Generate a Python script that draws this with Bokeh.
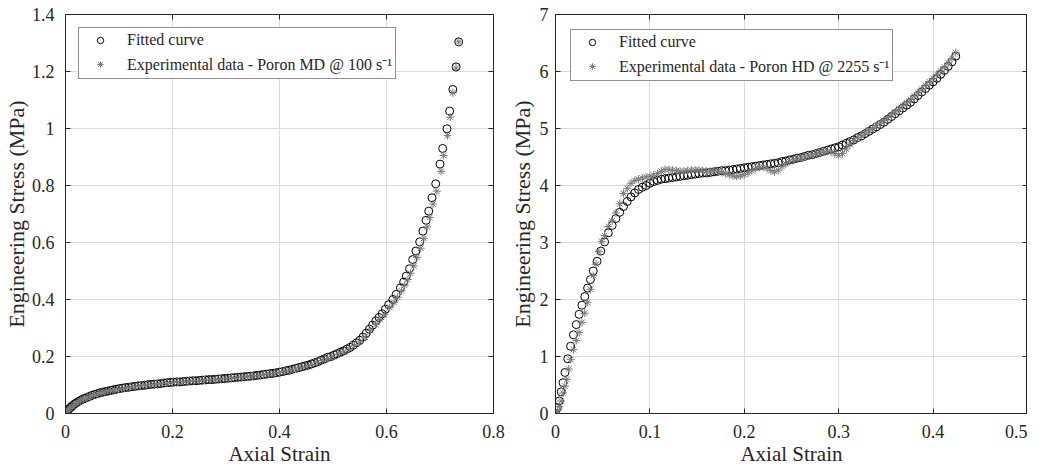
from bokeh.plotting import figure
from bokeh.models import (Range1d, FixedTicker, NumeralTickFormatter, LinearAxis, Legend, LegendItem,
                          CustomJSTickFormatter)
from bokeh.layouts import row
from bokeh.embed import file_html
from bokeh.resources import INLINE

# ---------------- data: left panel (Poron MD @ 100 1/s) ----------------
md_fit_strain = [0.000, 0.002, 0.004, 0.007, 0.010, 0.013, 0.016, 0.020, 0.024, 0.028, 0.032, 0.036, 0.040,
                 0.045, 0.050, 0.055, 0.060, 0.065, 0.070, 0.075, 0.080, 0.085, 0.090, 0.095, 0.100, 0.106,
                 0.112, 0.118, 0.124, 0.130, 0.136, 0.142, 0.148, 0.154, 0.160, 0.166, 0.172, 0.178, 0.184,
                 0.190, 0.196, 0.202, 0.208, 0.214, 0.220, 0.226, 0.232, 0.238, 0.244, 0.250, 0.256, 0.262,
                 0.268, 0.274, 0.280, 0.286, 0.292, 0.298, 0.304, 0.310, 0.316, 0.322, 0.328, 0.334, 0.340,
                 0.346, 0.352, 0.358, 0.364, 0.370, 0.376, 0.382, 0.388, 0.394, 0.400, 0.406, 0.412, 0.418,
                 0.424, 0.430, 0.436, 0.442, 0.448, 0.454, 0.460, 0.466, 0.472, 0.478, 0.484, 0.490, 0.496,
                 0.502, 0.508, 0.514, 0.520, 0.526, 0.532, 0.538, 0.544, 0.550, 0.556, 0.562, 0.568, 0.574,
                 0.580, 0.586, 0.592, 0.598, 0.604, 0.612, 0.618, 0.626, 0.632, 0.637, 0.643, 0.649, 0.655,
                 0.662, 0.668, 0.674, 0.679, 0.685, 0.692, 0.700, 0.705, 0.713, 0.718, 0.724, 0.730, 0.735]
md_fit_stress = [0.000, 0.006, 0.011, 0.017, 0.022, 0.027, 0.032, 0.037, 0.042, 0.046, 0.050, 0.053, 0.056,
                 0.060, 0.064, 0.067, 0.070, 0.073, 0.075, 0.077, 0.079, 0.081, 0.083, 0.085, 0.087, 0.089,
                 0.091, 0.092, 0.094, 0.095, 0.097, 0.098, 0.099, 0.101, 0.102, 0.103, 0.104, 0.105, 0.107,
                 0.108, 0.109, 0.110, 0.111, 0.111, 0.112, 0.113, 0.114, 0.115, 0.115, 0.116, 0.117, 0.118,
                 0.119, 0.119, 0.120, 0.121, 0.122, 0.123, 0.124, 0.125, 0.126, 0.127, 0.128, 0.129, 0.130,
                 0.131, 0.132, 0.134, 0.135, 0.137, 0.138, 0.140, 0.141, 0.143, 0.145, 0.147, 0.150, 0.152,
                 0.155, 0.158, 0.161, 0.164, 0.167, 0.170, 0.174, 0.178, 0.182, 0.187, 0.192, 0.197, 0.200,
                 0.205, 0.210, 0.215, 0.220, 0.226, 0.232, 0.240, 0.248, 0.257, 0.268, 0.282, 0.296, 0.310,
                 0.325, 0.337, 0.350, 0.366, 0.382, 0.400, 0.418, 0.441, 0.461, 0.482, 0.508, 0.540, 0.570,
                 0.602, 0.640, 0.678, 0.710, 0.757, 0.806, 0.875, 0.930, 0.999, 1.061, 1.137, 1.216, 1.304]

md_exp_strain = [0.001, 0.004, 0.008, 0.012, 0.017, 0.022, 0.028, 0.034, 0.040, 0.047, 0.054, 0.061, 0.068,
                 0.076, 0.084, 0.092, 0.100, 0.110, 0.120, 0.130, 0.140, 0.150, 0.160, 0.170, 0.180, 0.190,
                 0.200, 0.210, 0.220, 0.230, 0.240, 0.250, 0.260, 0.270, 0.280, 0.290, 0.300, 0.310, 0.320,
                 0.330, 0.340, 0.350, 0.360, 0.370, 0.380, 0.390, 0.400, 0.410, 0.420, 0.430, 0.440, 0.450,
                 0.460, 0.470, 0.480, 0.490, 0.500, 0.510, 0.520, 0.530, 0.540, 0.550, 0.560, 0.570, 0.580,
                 0.588, 0.596, 0.606, 0.614, 0.621, 0.628, 0.634, 0.640, 0.645, 0.651, 0.657, 0.664, 0.670,
                 0.676, 0.681, 0.687, 0.694, 0.702, 0.707, 0.714, 0.719, 0.724, 0.730, 0.735]
md_exp_stress = [0.002, 0.009, 0.017, 0.024, 0.031, 0.038, 0.044, 0.050, 0.055, 0.060, 0.065, 0.069, 0.073,
                 0.077, 0.080, 0.083, 0.086, 0.089, 0.092, 0.094, 0.097, 0.099, 0.101, 0.103, 0.105, 0.107,
                 0.109, 0.110, 0.112, 0.113, 0.114, 0.116, 0.117, 0.118, 0.119, 0.121, 0.122, 0.124, 0.126,
                 0.127, 0.129, 0.131, 0.133, 0.136, 0.138, 0.141, 0.144, 0.148, 0.152, 0.156, 0.161, 0.166,
                 0.172, 0.179, 0.186, 0.193, 0.200, 0.208, 0.216, 0.226, 0.238, 0.251, 0.268, 0.290, 0.312,
                 0.330, 0.348, 0.372, 0.390, 0.408, 0.430, 0.450, 0.470, 0.492, 0.518, 0.548, 0.580, 0.615,
                 0.655, 0.688, 0.735, 0.780, 0.850, 0.905, 0.975, 1.040, 1.125, 1.212, 1.304]

# ---------------- data: right panel (Poron HD @ 2255 1/s) ----------------
hd_fit_strain = [0.000, 0.002, 0.004, 0.006, 0.008, 0.010, 0.013, 0.016, 0.019, 0.022, 0.025, 0.028, 0.031,
                 0.034, 0.037, 0.040, 0.044, 0.048, 0.052, 0.056, 0.060, 0.064, 0.068, 0.072, 0.076, 0.080,
                 0.084, 0.088, 0.092, 0.096, 0.100, 0.104, 0.108, 0.112, 0.116, 0.120, 0.124, 0.128, 0.132,
                 0.136, 0.140, 0.144, 0.148, 0.152, 0.156, 0.160, 0.164, 0.168, 0.172, 0.176, 0.180, 0.184,
                 0.188, 0.192, 0.196, 0.200, 0.204, 0.208, 0.212, 0.216, 0.220, 0.224, 0.228, 0.232, 0.236,
                 0.240, 0.244, 0.248, 0.252, 0.256, 0.260, 0.264, 0.268, 0.272, 0.276, 0.280, 0.284, 0.288,
                 0.292, 0.296, 0.300, 0.304, 0.308, 0.312, 0.316, 0.320, 0.324, 0.328, 0.332, 0.336, 0.340,
                 0.344, 0.348, 0.352, 0.356, 0.360, 0.364, 0.368, 0.372, 0.376, 0.380, 0.384, 0.388, 0.392,
                 0.396, 0.400, 0.404, 0.408, 0.412, 0.416, 0.420, 0.424]
hd_fit_stress = [0.00, 0.10, 0.22, 0.38, 0.54, 0.72, 0.96, 1.18, 1.38, 1.56, 1.74, 1.90, 2.05,
                 2.20, 2.35, 2.50, 2.67, 2.85, 3.01, 3.17, 3.30, 3.42, 3.53, 3.63, 3.72, 3.80,
                 3.87, 3.93, 3.97, 4.00, 4.04, 4.07, 4.09, 4.11, 4.12, 4.13, 4.14, 4.15, 4.16,
                 4.17, 4.18, 4.19, 4.20, 4.21, 4.22, 4.22, 4.23, 4.24, 4.25, 4.26, 4.26, 4.27,
                 4.28, 4.29, 4.30, 4.31, 4.32, 4.33, 4.34, 4.35, 4.36, 4.37, 4.38, 4.39, 4.40,
                 4.42, 4.43, 4.45, 4.46, 4.48, 4.49, 4.51, 4.53, 4.54, 4.56, 4.58, 4.60, 4.62,
                 4.64, 4.66, 4.68, 4.71, 4.74, 4.77, 4.80, 4.84, 4.87, 4.91, 4.95, 4.99, 5.03,
                 5.07, 5.11, 5.16, 5.21, 5.26, 5.31, 5.36, 5.41, 5.46, 5.52, 5.58, 5.64, 5.70,
                 5.76, 5.82, 5.88, 5.95, 6.02, 6.09, 6.17, 6.27]

hd_exp_strain = [0.000, 0.002, 0.004, 0.006, 0.008, 0.010, 0.012, 0.014, 0.016, 0.019, 0.022, 0.025, 0.028,
                 0.031, 0.034, 0.037, 0.040, 0.043, 0.046, 0.049, 0.052, 0.056, 0.060, 0.064, 0.068, 0.072,
                 0.076, 0.080, 0.084, 0.088, 0.092, 0.096, 0.100, 0.104, 0.108, 0.112, 0.116, 0.120, 0.124,
                 0.128, 0.132, 0.136, 0.140, 0.144, 0.148, 0.152, 0.156, 0.160, 0.164, 0.168, 0.172, 0.176,
                 0.180, 0.184, 0.188, 0.192, 0.196, 0.200, 0.204, 0.208, 0.212, 0.216, 0.220, 0.224, 0.228,
                 0.232, 0.236, 0.240, 0.244, 0.248, 0.252, 0.256, 0.260, 0.264, 0.268, 0.272, 0.276, 0.280,
                 0.284, 0.288, 0.292, 0.296, 0.300, 0.304, 0.308, 0.312, 0.316, 0.320, 0.324, 0.328, 0.332,
                 0.336, 0.340, 0.344, 0.348, 0.352, 0.356, 0.360, 0.364, 0.368, 0.372, 0.376, 0.380, 0.384,
                 0.388, 0.392, 0.396, 0.400, 0.404, 0.408, 0.412, 0.416, 0.420, 0.424]
hd_exp_stress = [0.00, 0.05, 0.12, 0.22, 0.36, 0.48, 0.60, 0.78, 0.95, 1.12, 1.28, 1.42, 1.60,
                 1.76, 1.95, 2.18, 2.42, 2.62, 2.84, 3.02, 3.12, 3.28, 3.38, 3.52, 3.68, 3.86,
                 3.95, 4.04, 4.09, 4.11, 4.13, 4.15, 4.16, 4.18, 4.21, 4.25, 4.28, 4.28, 4.27,
                 4.26, 4.25, 4.25, 4.26, 4.27, 4.27, 4.27, 4.26, 4.25, 4.25, 4.26, 4.25, 4.23,
                 4.21, 4.19, 4.17, 4.16, 4.17, 4.19, 4.22, 4.26, 4.30, 4.32, 4.32, 4.30, 4.26,
                 4.24, 4.27, 4.33, 4.38, 4.42, 4.45, 4.47, 4.48, 4.50, 4.52, 4.54, 4.56, 4.58,
                 4.59, 4.60, 4.59, 4.56, 4.53, 4.56, 4.64, 4.72, 4.79, 4.84, 4.88, 4.92, 4.96,
                 5.00, 5.05, 5.09, 5.14, 5.19, 5.24, 5.29, 5.34, 5.40, 5.45, 5.51, 5.57, 5.63,
                 5.69, 5.76, 5.82, 5.88, 5.95, 6.01, 6.08, 6.15, 6.23, 6.33]

# ---------------- ticks and labels ----------------
md_xticks = [0, 0.2, 0.4, 0.6, 0.8]
md_yticks = [0, 0.2, 0.4, 0.6, 0.8, 1.0, 1.2, 1.4]
hd_xticks = [0, 0.1, 0.2, 0.3, 0.4, 0.5]
hd_yticks = [0, 1, 2, 3, 4, 5, 6, 7]
x_label = "Axial Strain"
y_label = "Engineering Stress (MPa)"
fit_label = "Fitted curve"
md_exp_label = "Experimental data - Poron MD @ 100 s\u207b\u00b9"
hd_exp_label = "Experimental data - Poron HD @ 2255 s\u207b\u00b9"

FONT = "Liberation Serif"
TXT = "#262626"
AX = "#262626"
GRID = "#dcdcdc"
STAR = "#7a7a7a"
FIG_H = 468


def make_panel(xs_fit, ys_fit, xs_exp, ys_exp, xr, yr, xt, yt, exp_label,
               width, border_left, border_right, ylab_standoff, ylabel_standoff, legend_margin):
    p = figure(width=width, height=FIG_H, output_backend="svg", toolbar_location=None,
               x_range=Range1d(*xr), y_range=Range1d(*yr),
               min_border_left=border_left, min_border_right=border_right,
               min_border_top=14, min_border_bottom=20)
    p.outline_line_color = AX
    p.outline_line_width = 1
    p.background_fill_color = "white"
    p.border_fill_color = "white"

    r_fit = p.scatter(xs_fit, ys_fit, marker="circle", size=8, fill_color=None,
                      line_color="black", line_width=1)
    r_exp = p.scatter(xs_exp, ys_exp, marker="asterisk", size=8,
                      line_color=STAR, line_width=1)

    fmt = NumeralTickFormatter(format="0.[0]")
    for ax in p.xaxis:
        ax.ticker = FixedTicker(ticks=xt)
        ax.formatter = fmt
        ax.axis_label = x_label
        ax.major_label_standoff = 11
        ax.axis_label_standoff = 1
        ax.major_label_text_font_size = "18px"
        ax.axis_label_text_font_size = "21px"
    for ax in p.yaxis:
        ax.ticker = FixedTicker(ticks=yt)
        ax.formatter = fmt
        ax.axis_label = y_label
        ax.major_label_standoff = ylab_standoff
        ax.axis_label_standoff = ylabel_standoff
        ax.major_label_text_font_size = "18px"
        ax.axis_label_text_font_size = "22px"
    for ax in list(p.xaxis) + list(p.yaxis):
        ax.major_tick_in = 5
        ax.major_tick_out = 0
        ax.minor_tick_line_color = None
        ax.axis_line_color = AX
        ax.major_tick_line_color = AX
        ax.major_label_text_font = FONT
        ax.major_label_text_color = TXT
        ax.axis_label_text_font = FONT
        ax.axis_label_text_font_style = "normal"
        ax.axis_label_text_color = TXT

    # mirrored ticks on top and right (box on), without labels
    blank = CustomJSTickFormatter(code="return ''")
    for side, tk in (("above", xt), ("right", yt)):
        a = LinearAxis(ticker=FixedTicker(ticks=tk), formatter=blank,
                       major_label_standoff=0, major_tick_in=5, major_tick_out=0,
                       minor_tick_line_color=None, axis_line_color=AX, major_tick_line_color=AX)
        p.add_layout(a, side)

    p.xgrid.ticker = FixedTicker(ticks=xt)
    p.ygrid.ticker = FixedTicker(ticks=yt)
    p.grid.grid_line_color = GRID
    p.grid.grid_line_width = 1

    leg = Legend(items=[LegendItem(label=fit_label, renderers=[r_fit]),
                        LegendItem(label=exp_label, renderers=[r_exp])],
                 location="top_left", orientation="vertical",
                 label_text_font=FONT, label_text_font_size="16px", label_text_color=TXT,
                 padding=3, spacing=4, margin=legend_margin, glyph_width=36, glyph_height=16,
                 label_height=16, label_standoff=9,
                 border_line_color=AX, border_line_width=1,
                 background_fill_color="white", background_fill_alpha=1.0)
    p.add_layout(leg, "center")
    return p


p1 = make_panel(md_fit_strain, md_fit_stress, md_exp_strain, md_exp_stress,
                (0, 0.8), (0, 1.4), md_xticks, md_yticks, md_exp_label,
                width=506, border_left=58, border_right=13, ylab_standoff=11, ylabel_standoff=0,
                legend_margin=13)
p2 = make_panel(hd_fit_strain, hd_fit_stress, hd_exp_strain, hd_exp_stress,
                (0, 0.5), (0, 7), hd_xticks, hd_yticks, hd_exp_label,
                width=521, border_left=43, border_right=0, ylab_standoff=7, ylabel_standoff=2,
                legend_margin=15)

layout = row(p1, p2)
open("out.html", "w").write(file_html(layout, INLINE))
